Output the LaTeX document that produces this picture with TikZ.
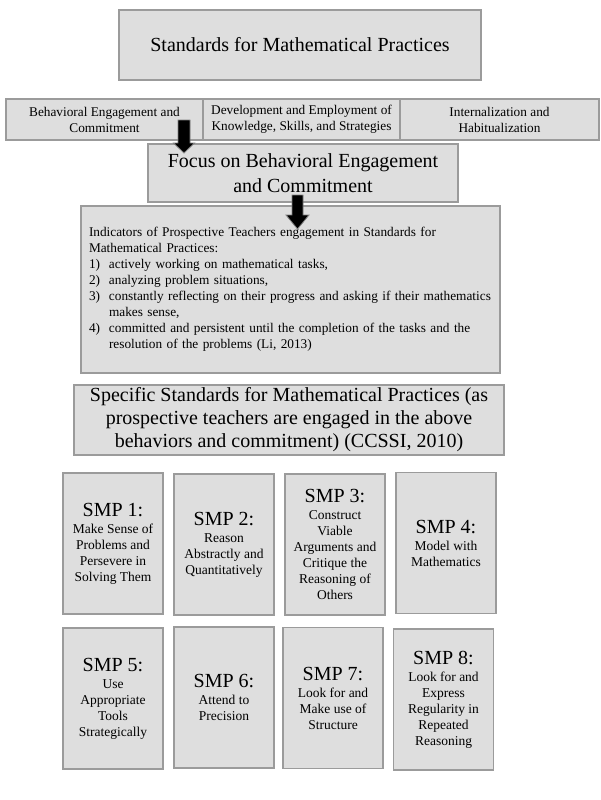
\documentclass[tikz,border=0pt]{standalone}
\usepackage{fontspec}
\setmainfont{Liberation Serif}
\usetikzlibrary{calc}
\definecolor{boxfill}{RGB}{222,222,222}
\definecolor{boxline}{RGB}{155,155,155}
\newcommand\smphead[1]{{\fontsize{20}{20}\selectfont #1}\\[1pt]}
\begin{document}
\begin{tikzpicture}[x=1pt,y=-1pt,
  box/.style={draw=boxline, fill=boxfill, line width=1.6pt, rectangle, inner sep=0pt, align=center, text=black},
  big/.style={font=\fontsize{20}{23}\selectfont},
  small/.style={font=\fontsize{13.3}{16}\selectfont},
  smp/.style={box, minimum width=100pt, minimum height=141pt, font=\fontsize{13.5}{16}\selectfont},
  blockarr/.style={fill=black, draw=gray, line width=0.8pt, line join=miter}
]
\useasboundingbox (0,0) rectangle (600,800);

\node[box, big, minimum width=362pt, minimum height=70pt] (title) at (300,45) {Standards for Mathematical Practices};

\node[box, small, minimum width=197pt, minimum height=41pt] (dim1) at (104.5,119.5) {Behavioral Engagement and\\Commitment};
\node[box, small, minimum width=197pt, minimum height=41pt] (dim2) at (301.5,119.5) {Development and Employment of\\Knowledge, Skills, and Strategies};
\node[box, small, minimum width=199pt, minimum height=41pt] (dim3) at (499.5,119.5) {Internalization and\\Habitualization};

\node[box, minimum width=310pt, minimum height=58pt, font=\fontsize{20}{25}\selectfont] (focus) at (303,173) {Focus on Behavioral Engagement\\and Commitment};

\node[box, minimum width=419pt, minimum height=167pt, text width=403pt, align=left, font=\fontsize{13.3}{16}\selectfont] (ind) at (290.5,289.5) {Indicators of Prospective Teachers engagement in Standards for\\
Mathematical Practices:\\
\makebox[20pt][l]{1)}actively working on mathematical tasks,\\
\makebox[20pt][l]{2)}analyzing problem situations,\\
\makebox[20pt][l]{3)}constantly reflecting on their progress and asking if their mathematics\\
\hspace*{20pt}makes sense,\\
\makebox[20pt][l]{4)}committed and persistent until the completion of the tasks and the\\
\hspace*{20pt}resolution of the problems (Li, 2013)};

\node[box, minimum width=430pt, minimum height=70pt, font=\fontsize{20}{23}\selectfont] (spec) at (289,420) {Specific Standards for Mathematical Practices (as\\prospective teachers are engaged in the above\\behaviors and commitment) (CCSSI, 2010)};

\node[smp] (smp1) at (113,543.5) {\smphead{SMP 1:}Make Sense of\\Problems and\\Persevere in\\Solving Them};
\node[smp] (smp2) at (224,544.5) {\smphead{SMP 2:}Reason\\Abstractly and\\Quantitatively};
\node[smp] (smp3) at (335,544.5) {\smphead{SMP 3:}Construct\\Viable\\Arguments and\\Critique the\\Reasoning of\\Others};
\node[smp] (smp4) at (446,543) {\smphead{SMP 4:}Model with\\Mathematics};

\node[smp] (smp5) at (113,698.5) {\smphead{SMP 5:}Use\\Appropriate\\Tools\\Strategically};
\node[smp] (smp6) at (224,697.5) {\smphead{SMP 6:}Attend to\\Precision};
\node[smp] (smp7) at (333,698) {\smphead{SMP 7:}Look for and\\Make use of\\Structure};
\node[smp] (smp8) at (443.5,699.5) {\smphead{SMP 8:}Look for and\\Express\\Regularity in\\Repeated\\Reasoning};

\coordinate (a1s) at (184,120);
\coordinate (a1e) at (184,153);
\coordinate (a2s) at (297.5,195);
\coordinate (a2e) at (297.5,229);

\draw[blockarr] ($(a1s)+(-6,0)$) -- ($(a1e)+(-6,-10)$) -- ($(a1e)+(-10.5,-10)$) -- (a1e) -- ($(a1e)+(10.5,-10)$) -- ($(a1e)+(6,-10)$) -- ($(a1s)+(6,0)$) -- cycle;
\draw[blockarr] ($(a2s)+(-5.5,0)$) -- ($(a2e)+(-5.5,-14)$) -- ($(a2e)+(-11.5,-14)$) -- (a2e) -- ($(a2e)+(11.5,-14)$) -- ($(a2e)+(5.5,-14)$) -- ($(a2s)+(5.5,0)$) -- cycle;
\end{tikzpicture}
\end{document}
